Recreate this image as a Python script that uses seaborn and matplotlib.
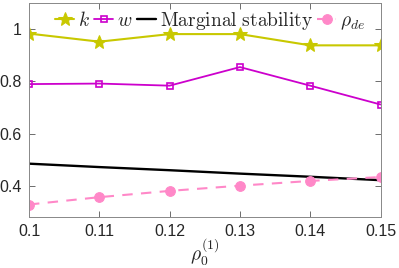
import matplotlib
matplotlib.use("Agg")
import matplotlib.pyplot as plt
import seaborn as sns
import pandas as pd
from matplotlib.ticker import FuncFormatter

rho0 = [0.10, 0.11, 0.12, 0.13, 0.14, 0.15]
k_vals = [0.982, 0.951, 0.980, 0.980, 0.937, 0.937]
w_vals = [0.789, 0.791, 0.783, 0.854, 0.783, 0.711]
marginal = [0.485, 0.472, 0.460, 0.447, 0.435, 0.422]
rho_de = [0.329, 0.357, 0.381, 0.401, 0.419, 0.434]
xticks = [0.1, 0.11, 0.12, 0.13, 0.14, 0.15]
yticks = [0.4, 0.6, 0.8, 1.0]

sns.set_style("ticks")
plt.rcParams['font.family'] = ['Liberation Sans', 'DejaVu Sans']
plt.rcParams['mathtext.fontset'] = 'cm'

df = pd.DataFrame({"rho0": rho0, "k": k_vals, "w": w_vals,
                   "marg": marginal, "rho_de": rho_de})

fig = plt.figure(figsize=(3.99, 2.68), dpi=100)
ax = fig.add_axes([0.0727, 0.191, 0.881, 0.799])

sns.lineplot(data=df, x="rho0", y="k", ax=ax, color="#c8c800", lw=1.5,
             marker="*", markersize=10, markeredgecolor="#c8c800",
             label=r"$k$")
sns.lineplot(data=df, x="rho0", y="w", ax=ax, color="#cc00cc", lw=1.3,
             marker="s", markersize=5, markerfacecolor="none",
             markeredgecolor="#cc00cc", markeredgewidth=1.2, label=r"$w$")
sns.lineplot(data=df, x="rho0", y="marg", ax=ax, color="black", lw=1.7,
             label=r"$\mathrm{Marginal\ stability}$")
sns.lineplot(data=df, x="rho0", y="rho_de", ax=ax, color="#ff88c8", lw=1.5,
             linestyle=(0, (5, 4)), marker="o", markersize=7,
             markeredgecolor="#ff88c8", label=r"$\rho_{de}$")

ax.set_xlim(0.1, 0.15)
ax.set_ylim(0.282, 1.1)
ax.set_xticks(xticks)
ax.set_yticks(yticks)
ax.xaxis.set_major_formatter(FuncFormatter(lambda v, p: f"{v:g}"))
ax.yaxis.set_major_formatter(FuncFormatter(lambda v, p: f"{v:g}"))
ax.tick_params(direction="in", length=4, width=0.6, color="#555555",
               labelsize=11.5, top=True, right=True, pad=5)
for s in ax.spines.values():
    s.set_color("#888888")
    s.set_linewidth(0.7)

ax.set_ylabel("")
ax.set_xlabel(r"$\rho_0^{(1)}$", fontsize=14, labelpad=-2)

leg = ax.legend(loc="upper center", bbox_to_anchor=(0.515, 1.02), ncol=4,
                frameon=False, fontsize=14, handlelength=1.0,
                handletextpad=0.2, columnspacing=0.2, borderaxespad=0.2)

fig.savefig("out.png", dpi=100)
